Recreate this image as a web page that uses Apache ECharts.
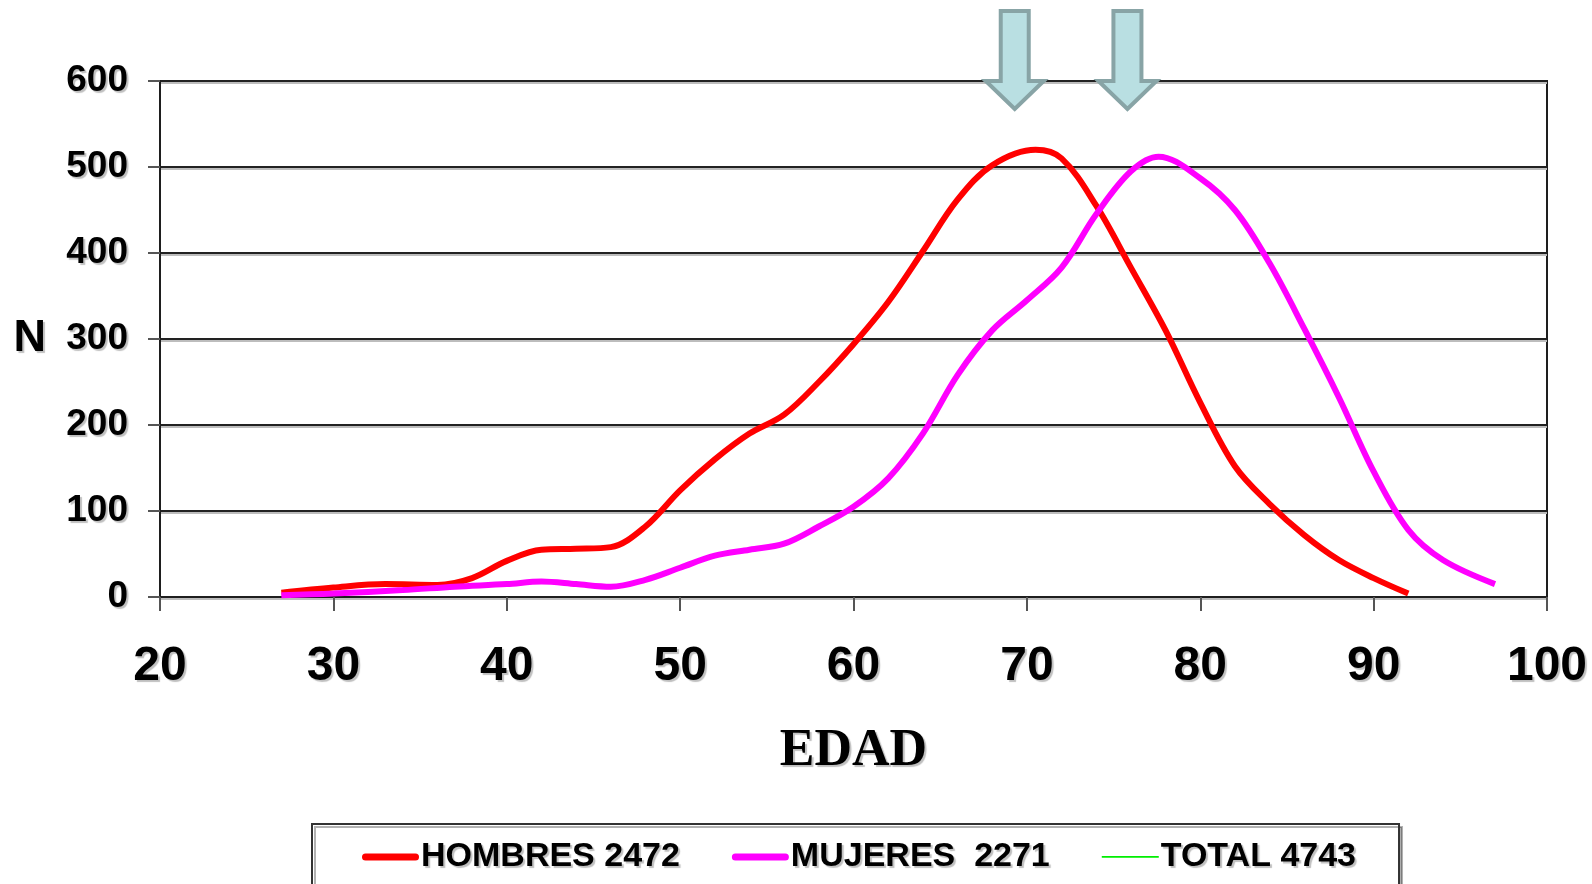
<!DOCTYPE html>
<html>
<head>
<meta charset="utf-8">
<title>N por EDAD</title>
<script src="https://cdn.jsdelivr.net/npm/echarts@6/dist/echarts.min.js"></script>
<style>
  html, body { margin: 0; padding: 0; background: #ffffff; }
  #chart { width: 1592px; height: 884px; }
</style>
</head>
<body>
<div id="chart"></div>
<script>
// Ages (x) and counts (y) for each group
const hombresEdad = [27, 30, 33, 36, 38, 40, 42, 44, 46, 48, 50, 52, 54, 56, 58, 60, 62, 64, 66, 68, 70.5, 72, 74, 76, 78, 80, 82, 84, 86, 88, 90, 92];
const hombresN    = [5, 11, 15, 14, 22, 42, 55, 56, 58, 82, 124, 160, 190, 212, 250, 294, 343, 402, 462, 502, 520, 510, 455, 383, 310, 226, 152, 108, 72, 43, 22, 4];

const mujeresEdad = [27, 30, 34, 37, 40, 42, 44, 46, 48, 50, 52, 54, 56, 58, 60, 62, 64, 66, 68, 70, 72, 74, 76, 77.6, 80, 82, 84, 86, 88, 90, 92, 94, 97];
const mujeresN    = [2, 4, 8, 12, 15, 18, 15, 12, 20, 34, 48, 55, 62, 82, 105, 138, 190, 258, 310, 345, 383, 445, 495, 512, 487, 450, 388, 312, 232, 146, 78, 43, 15];

// Legend entries
const serieNames = ['HOMBRES 2472', 'MUJERES  2271', 'TOTAL 4743'];
const serieColors = ['#ff0000', '#ff00ff', '#00ee00'];

// Mean ages marked by arrows above the plot
const arrowAges = [69.3, 75.8];

// Axis ticks
const xTicks = { min: 20, max: 100, interval: 10 };
const yTicks = { min: 0, max: 600, interval: 100 };

const pairs = (xs, ys) => xs.map((x, i) => [x, ys[i]]);

const chart = echarts.init(document.getElementById('chart'), null, { renderer: 'canvas' });

const labelShadow = { textShadowColor: 'rgba(0,0,0,0.25)', textShadowOffsetX: 2, textShadowOffsetY: 2, textShadowBlur: 1 };

// Legend swatches: thick bar for the two curves, thin bar for the total
const thickIcon = 'path://M3.5,0H53.5A3.5,3.5,0,0,1,53.5,7H3.5A3.5,3.5,0,0,1,3.5,0Z';
const thinIcon = 'path://M0,0h0.05v0.05h-0.05Z M0,2.5H57V4.3H0Z M56.95,6.95h0.05v0.05h-0.05Z';

const option = {
  animation: false,
  backgroundColor: '#ffffff',
  grid: {
    left: 160, right: 45, top: 81, bottom: 287,
    show: true, borderColor: '#1e1e1e', borderWidth: 2, backgroundColor: 'transparent'
  },
  xAxis: {
    type: 'value',
    min: xTicks.min, max: xTicks.max, interval: xTicks.interval,
    name: 'EDAD',
    nameLocation: 'middle',
    nameGap: 155,
    nameTextStyle: {
      fontFamily: 'Liberation Serif', fontWeight: 'bold', fontSize: 52, color: '#000',
      verticalAlign: 'middle', ...labelShadow
    },
    axisLine: { show: true, lineStyle: { color: '#1e1e1e', width: 2 } },
    axisTick: { show: true, length: 14, lineStyle: { color: '#555', width: 2 } },
    axisLabel: {
      margin: 46,
      fontFamily: 'Liberation Sans', fontWeight: 'bold', fontSize: 48, color: '#000',
      ...labelShadow
    },
    splitLine: { show: false }
  },
  yAxis: {
    type: 'value',
    min: yTicks.min, max: yTicks.max, interval: yTicks.interval,
    name: 'N',
    nameLocation: 'middle',
    nameRotate: 0,
    nameGap: 114,
    nameTextStyle: {
      fontFamily: 'Liberation Sans', fontWeight: 'bold', fontSize: 45, color: '#000',
      padding: [0, 0, 18, 0], ...labelShadow
    },
    axisLine: { show: true, lineStyle: { color: '#1e1e1e', width: 2 } },
    axisTick: { show: true, length: 12, lineStyle: { color: '#555', width: 2 } },
    axisLabel: {
      margin: 32,
      fontFamily: 'Liberation Sans', fontWeight: 'bold', fontSize: 37, color: '#000',
      ...labelShadow
    },
    splitLine: {
      show: true,
      lineStyle: { color: '#222', width: 2, shadowColor: '#bdbdbd', shadowOffsetY: 2, shadowBlur: 0 }
    }
  },
  legend: {
    data: [
      { name: serieNames[0], icon: thickIcon },
      { name: serieNames[1], icon: thickIcon },
      { name: serieNames[2], icon: thinIcon }
    ],
    left: 312,
    top: 824,
    orient: 'horizontal',
    padding: [16, 43, 60, 50],
    itemGap: 52,
    itemWidth: 57,
    itemHeight: 7,
    borderColor: '#333',
    borderWidth: 2,
    backgroundColor: '#fff',
    shadowColor: 'rgba(0,0,0,0.3)',
    shadowOffsetX: 3, shadowOffsetY: 3, shadowBlur: 0,
    textStyle: {
      fontFamily: 'Liberation Sans', fontWeight: 'bold', fontSize: 34, color: '#000',
      padding: [0, 0, 0, -3],
      ...labelShadow
    }
  },
  series: [
    {
      name: serieNames[0],
      type: 'line',
      data: pairs(hombresEdad, hombresN),
      smooth: 0.35,
      showSymbol: false,
      symbol: 'none',
      color: serieColors[0],
      lineStyle: { color: serieColors[0], width: 6 },
      z: 3
    },
    {
      name: serieNames[1],
      type: 'line',
      data: pairs(mujeresEdad, mujeresN),
      smooth: 0.35,
      showSymbol: false,
      symbol: 'none',
      color: serieColors[1],
      lineStyle: { color: serieColors[1], width: 6 },
      z: 4
    },
    {
      name: serieNames[2],
      type: 'line',
      data: [],
      showSymbol: false,
      symbol: 'none',
      color: serieColors[2],
      lineStyle: { color: serieColors[2], width: 2 }
    }
  ]
};

chart.setOption(option);

// Down arrows above the plot, placed at the mean ages through the x scale
function arrowShape(cx) {
  const top = 11, neck = 81, tip = 109, shaft = 14, head = 29;
  return [
    [cx - shaft, top], [cx + shaft, top], [cx + shaft, neck], [cx + head, neck],
    [cx, tip], [cx - head, neck], [cx - shaft, neck]
  ];
}

const arrows = arrowAges.map(age => {
  const cx = chart.convertToPixel({ xAxisIndex: 0 }, age);
  return {
    type: 'polygon',
    shape: { points: arrowShape(cx) },
    style: { fill: '#b9dfe2', stroke: '#88a4a6', lineWidth: 4, lineJoin: 'miter' },
    z: 10
  };
});

chart.setOption({ graphic: arrows });
</script>
</body>
</html>
